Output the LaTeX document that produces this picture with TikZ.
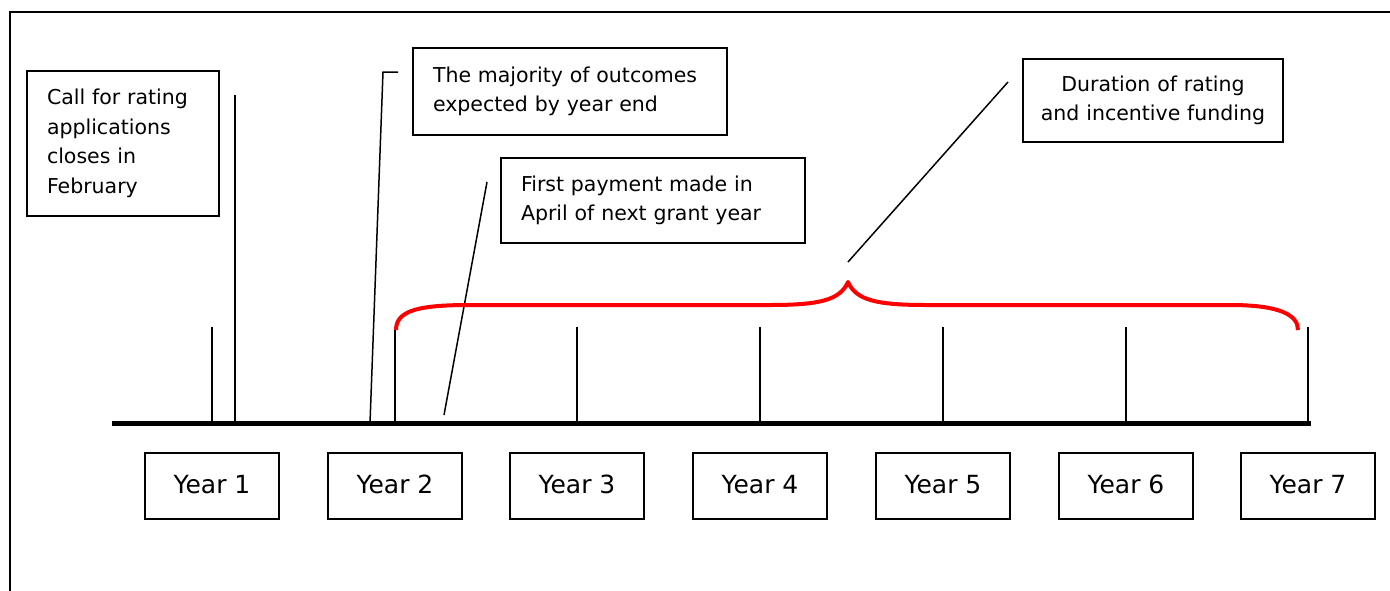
\documentclass[tikz,border=0pt]{standalone}
\usepackage{fontspec}
\setmainfont{DejaVu Sans}
\definecolor{bcol}{RGB}{255,0,0}
\tikzset{every picture/.style={x=1pt,y=-1pt}}
\tikzset{note/.style={draw,line width=1.5pt,inner xsep=20pt,inner ysep=0pt,align=left,font=\fontsize{20.5}{29.5}\selectfont}}
\tikzset{yearbox/.style={draw,line width=1.5pt,minimum width=134,minimum height=66,text height=18,text depth=4,font=\fontsize{25}{30}\selectfont}}
\tikzset{tick/.style={line width=1.5pt}}
\tikzset{lead/.style={line width=1.5pt}}
\tikzset{axis/.style={line width=5pt}}
\tikzset{brace/.style={bcol,line width=4pt}}

\begin{document}
\begin{tikzpicture}
\clip (0,0) rectangle (1390,590);
\draw [line width=2pt] (10,600) |- (1400,12);

\draw [axis] (112,423) -- (1311,423);
\foreach \x [count=\i] in {212,395,577,760,943,1126,1308} {
  \node [yearbox] (y\i) at (\x,486) {Year \i};
  \coordinate (t\i) at (\x,327);
  \coordinate (f\i) at (\x,423);
  \draw [tick] (t\i) -- (f\i);
}

\node [note,text width=152,minimum height=145] (call) at (123,143.5) {Call for rating\\applications\\closes in\\February};
\node [note,text width=274,minimum height=87] (maj) at (570,91.5) {The majority of outcomes\\expected by year end};
\node [note,text width=264,minimum height=85] (pay) at (653,200.5) {First payment made in\\April of next grant year};
\node [note,align=center,inner xsep=5pt,text width=250,minimum height=83] (dur) at (1153,100.5) {Duration of rating\\and incentive funding};

\coordinate (callA) at (235,95);
\coordinate (callB) at (235,423);
\draw [lead] (callA) -- (callB);

\coordinate (majA) at (370,423);
\coordinate (majB) at (383,72);
\coordinate (majC) at (398,72);
\draw [lead] (majA) -- (majB) -- (majC);

\coordinate (payA) at (444,415);
\coordinate (payB) at (487,182);
\draw [lead] (payA) -- (payB);

\coordinate (durA) at (848,262);
\coordinate (durB) at (1008,82);
\draw [lead] (durA) -- (durB);

\coordinate (bL) at (396,330);
\coordinate (bTip) at (848,282);
\coordinate (bR) at (1298,330);
\draw [brace,line join=round] (bL) .. controls (396,310) and (420,305) .. (470,305) -- (770,305)
  .. controls (820,305) and (840,300) .. (bTip)
  .. controls (856,300) and (876,305) .. (926,305) -- (1230,305)
  .. controls (1280,305) and (1298,315) .. (bR);
\end{tikzpicture}
\end{document}
